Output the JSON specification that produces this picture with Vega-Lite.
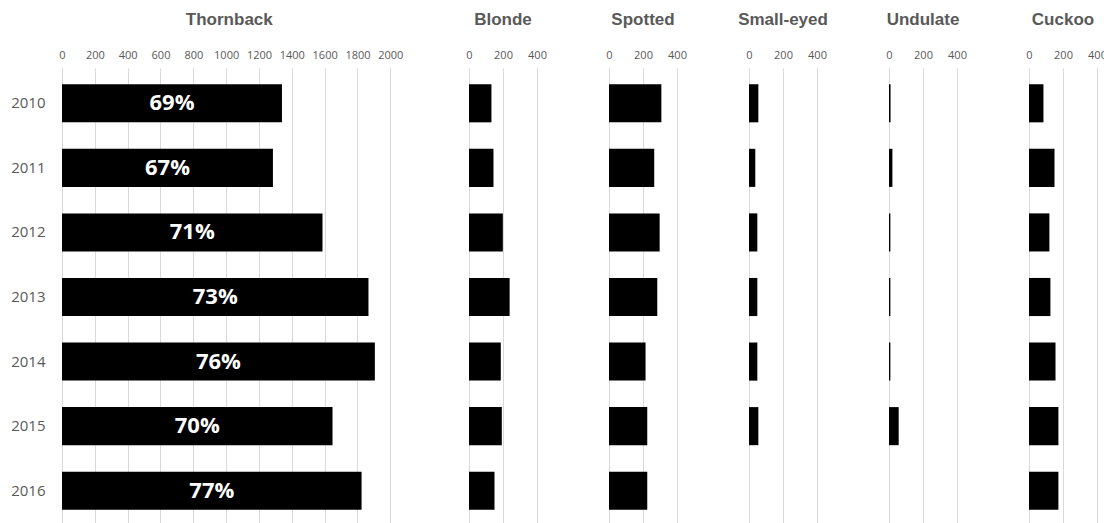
{
  "$schema": "https://vega.github.io/schema/vega-lite/v6.json",
  "padding": {"left": 10, "top": 11, "right": 0, "bottom": 0},
  "background": "white",
  "datasets": {
    "skates": [
      {"species": "Thornback", "year": "2010", "value": 1340, "pct": "69%"},
      {"species": "Thornback", "year": "2011", "value": 1285, "pct": "67%"},
      {"species": "Thornback", "year": "2012", "value": 1587, "pct": "71%"},
      {"species": "Thornback", "year": "2013", "value": 1867, "pct": "73%"},
      {"species": "Thornback", "year": "2014", "value": 1906, "pct": "76%"},
      {"species": "Thornback", "year": "2015", "value": 1648, "pct": "70%"},
      {"species": "Thornback", "year": "2016", "value": 1825, "pct": "77%"},
      {"species": "Blonde", "year": "2010", "value": 132},
      {"species": "Blonde", "year": "2011", "value": 144},
      {"species": "Blonde", "year": "2012", "value": 199},
      {"species": "Blonde", "year": "2013", "value": 239},
      {"species": "Blonde", "year": "2014", "value": 187},
      {"species": "Blonde", "year": "2015", "value": 193},
      {"species": "Blonde", "year": "2016", "value": 150},
      {"species": "Spotted", "year": "2010", "value": 308},
      {"species": "Spotted", "year": "2011", "value": 266},
      {"species": "Spotted", "year": "2012", "value": 298},
      {"species": "Spotted", "year": "2013", "value": 284},
      {"species": "Spotted", "year": "2014", "value": 215},
      {"species": "Spotted", "year": "2015", "value": 225},
      {"species": "Spotted", "year": "2016", "value": 225},
      {"species": "Small-eyed", "year": "2010", "value": 55},
      {"species": "Small-eyed", "year": "2011", "value": 37},
      {"species": "Small-eyed", "year": "2012", "value": 49},
      {"species": "Small-eyed", "year": "2013", "value": 49},
      {"species": "Small-eyed", "year": "2014", "value": 49},
      {"species": "Small-eyed", "year": "2015", "value": 55},
      {"species": "Small-eyed", "year": "2016", "value": 0},
      {"species": "Undulate", "year": "2010", "value": 9},
      {"species": "Undulate", "year": "2011", "value": 20},
      {"species": "Undulate", "year": "2012", "value": 8},
      {"species": "Undulate", "year": "2013", "value": 8},
      {"species": "Undulate", "year": "2014", "value": 8},
      {"species": "Undulate", "year": "2015", "value": 57},
      {"species": "Undulate", "year": "2016", "value": 0},
      {"species": "Cuckoo", "year": "2010", "value": 85},
      {"species": "Cuckoo", "year": "2011", "value": 150},
      {"species": "Cuckoo", "year": "2012", "value": 120},
      {"species": "Cuckoo", "year": "2013", "value": 126},
      {"species": "Cuckoo", "year": "2014", "value": 156},
      {"species": "Cuckoo", "year": "2015", "value": 173},
      {"species": "Cuckoo", "year": "2016", "value": 173}
    ]
  },
  "data": {"name": "skates"},
  "spacing": 72,
  "bounds": "flush",
  "config": {
    "view": {"stroke": null},
    "title": {"fontSize": 17, "font": "Liberation Sans", "fontWeight": "bold", "color": "#595959", "anchor": "middle", "offset": 20},
    "axisX": {"orient": "top", "grid": true, "gridColor": "#d9d9d9", "gridWidth": 1, "domain": false, "tickColor": "#d9d9d9", "tickSize": 3, "labelPadding": 8, "labelFontSize": 11, "labelFont": "Open Sans", "labelColor": "#595959", "labelFlush": false, "format": "d", "title": null},
    "axisY": {"ticks": false, "domain": false, "grid": false, "labelPadding": 17, "labelFontSize": 15, "labelFont": "Open Sans", "labelColor": "#595959", "title": null}
  },
  "hconcat": [
    {
      "width": 334.6, "height": 452,
      "title": "Thornback",
      "transform": [{"filter": "datum.species === 'Thornback'"}],
      "layer": [
        {
          "mark": {"type": "bar", "color": "black"},
          "encoding": {
            "y": {"field": "year", "type": "nominal", "scale": {"paddingInner": 0.41, "paddingOuter": 0.205}},
            "x": {"field": "value", "type": "quantitative", "scale": {"domain": [0, 2038.4], "nice": false, "zero": true}, "axis": {"values": [0, 200, 400, 600, 800, 1000, 1200, 1400, 1600, 1800, 2000], "orient": "top"}}
          }
        },
        {
          "mark": {"type": "text", "color": "white", "font": "Open Sans", "fontWeight": "bold", "fontSize": 22, "align": "center", "baseline": "middle"},
          "encoding": {
            "y": {"field": "year", "type": "nominal"},
            "x": {"field": "value", "type": "quantitative", "scale": {"domain": [0, 4076.8], "nice": false}, "axis": null},
            "text": {"field": "pct"}
          }
        }
      ],
      "resolve": {"scale": {"x": "independent"}}
    },
    {
      "width": 68, "height": 452,
      "title": "Blonde",
      "transform": [{"filter": "datum.species === 'Blonde'"}],
      "mark": {"type": "bar", "color": "black"},
      "encoding": {
        "y": {"field": "year", "type": "nominal", "scale": {"paddingInner": 0.41, "paddingOuter": 0.205}, "axis": null},
        "x": {"field": "value", "type": "quantitative", "scale": {"domain": [0, 400], "nice": false}, "axis": {"values": [0, 200, 400], "orient": "top"}}
      }
    },
    {
      "width": 68, "height": 452,
      "title": "Spotted",
      "transform": [{"filter": "datum.species === 'Spotted'"}],
      "mark": {"type": "bar", "color": "black"},
      "encoding": {
        "y": {"field": "year", "type": "nominal", "scale": {"paddingInner": 0.41, "paddingOuter": 0.205}, "axis": null},
        "x": {"field": "value", "type": "quantitative", "scale": {"domain": [0, 400], "nice": false}, "axis": {"values": [0, 200, 400], "orient": "top"}}
      }
    },
    {
      "width": 68, "height": 452,
      "title": "Small-eyed",
      "transform": [{"filter": "datum.species === 'Small-eyed'"}],
      "mark": {"type": "bar", "color": "black"},
      "encoding": {
        "y": {"field": "year", "type": "nominal", "scale": {"paddingInner": 0.41, "paddingOuter": 0.205}, "axis": null},
        "x": {"field": "value", "type": "quantitative", "scale": {"domain": [0, 400], "nice": false}, "axis": {"values": [0, 200, 400], "orient": "top"}}
      }
    },
    {
      "width": 68, "height": 452,
      "title": "Undulate",
      "transform": [{"filter": "datum.species === 'Undulate'"}],
      "mark": {"type": "bar", "color": "black"},
      "encoding": {
        "y": {"field": "year", "type": "nominal", "scale": {"paddingInner": 0.41, "paddingOuter": 0.205}, "axis": null},
        "x": {"field": "value", "type": "quantitative", "scale": {"domain": [0, 400], "nice": false}, "axis": {"values": [0, 200, 400], "orient": "top"}}
      }
    },
    {
      "width": 68, "height": 452,
      "title": "Cuckoo",
      "transform": [{"filter": "datum.species === 'Cuckoo'"}],
      "mark": {"type": "bar", "color": "black"},
      "encoding": {
        "y": {"field": "year", "type": "nominal", "scale": {"paddingInner": 0.41, "paddingOuter": 0.205}, "axis": null},
        "x": {"field": "value", "type": "quantitative", "scale": {"domain": [0, 400], "nice": false}, "axis": {"values": [0, 200, 400], "orient": "top"}}
      }
    }
  ]
}
